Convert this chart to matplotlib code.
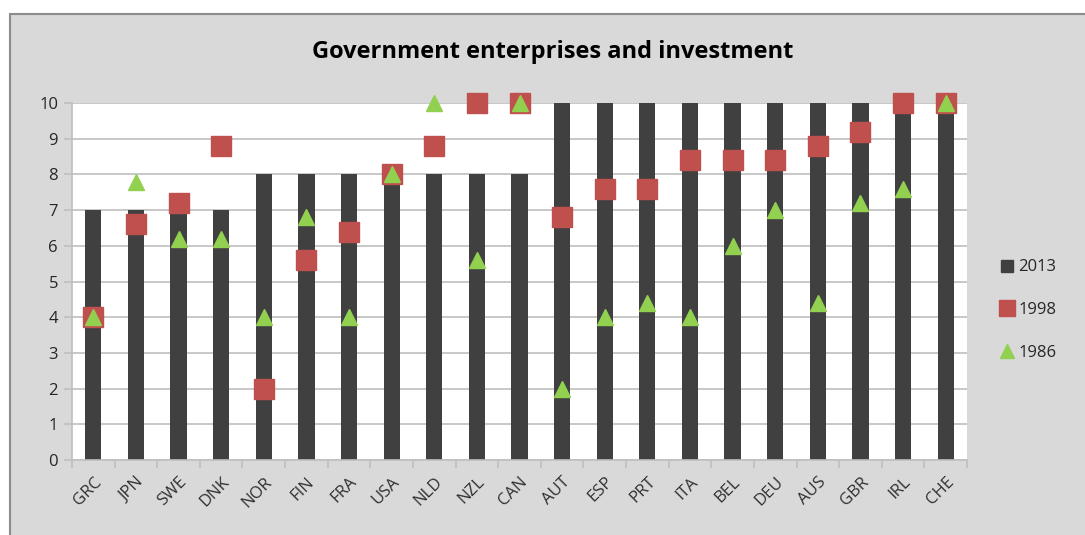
import matplotlib.pyplot as plt
import numpy as np
from matplotlib.patches import Rectangle
from matplotlib.lines import Line2D

# Country codes and scores per year
countries = ['GRC', 'JPN', 'SWE', 'DNK', 'NOR', 'FIN', 'FRA', 'USA', 'NLD', 'NZL', 'CAN',
             'AUT', 'ESP', 'PRT', 'ITA', 'BEL', 'DEU', 'AUS', 'GBR', 'IRL', 'CHE']
score_2013 = [7, 7, 7, 7, 8, 8, 8, 8, 8, 8, 8,
              10, 10, 10, 10, 10, 10, 10, 10, 10, 10]
score_1998 = [4, 6.6, 7.2, 8.8, 2, 5.6, 6.4, 8, 8.8, 10, 10,
              6.8, 7.6, 7.6, 8.4, 8.4, 8.4, 8.8, 9.2, 10, 10]
score_1986 = [4, 7.8, 6.2, 6.2, 4, 6.8, 4, 8, 10, 5.6, 10,
              2, 4, 4.4, 4, 6, 7, 4.4, 7.2, 7.6, 10]

BG = '#d9d9d9'
GRID = '#bfbfbf'
C2013, C1998, C1986 = '#404040', '#c0504d', '#92d050'

plt.rcParams['font.family'] = ['Open Sans', 'DejaVu Sans']

fig = plt.figure(figsize=(10.85, 5.35), dpi=100, facecolor='white')
# framed grey chart area, kept behind the axes
fig.patches.append(Rectangle((10 / 1085, -0.05), 1.0, 1.05 - 14 / 535,
                             transform=fig.transFigure, facecolor=BG,
                             edgecolor='#8c8c8c', linewidth=1.5, zorder=-10))

ax = fig.add_axes([72 / 1085, 75 / 535, 895 / 1085, 357 / 535])
ax.set_facecolor('white')

x = np.arange(len(countries))
ax.bar(x, score_2013, width=0.38, color=C2013, zorder=2)
ax.plot(x, score_1998, linestyle='none', marker='s', markersize=14,
        color=C1998, zorder=3, clip_on=False)
ax.plot(x, score_1986, linestyle='none', marker='^', markersize=11,
        color=C1986, zorder=4, clip_on=False)

ax.set_xlim(-0.5, len(countries) - 0.5)
ax.set_ylim(0, 10)
ax.set_yticks(range(0, 11))
ax.yaxis.grid(True, color=GRID, linewidth=1.2, zorder=0)
ax.set_axisbelow(True)

ax.set_xticks(x)
ax.set_xticklabels(countries, rotation=45, ha='right', rotation_mode='anchor',
                   fontsize=12, color='#303030')
ax.set_xticks(np.arange(-0.5, len(countries)), minor=True)
ax.tick_params(axis='x', which='major', length=0, pad=10)
ax.tick_params(axis='x', which='minor', length=6, color=GRID, width=1.2)
ax.tick_params(axis='y', length=6, color=GRID, width=1.2, labelsize=12,
               labelcolor='#262626', pad=4)

for side in ['top', 'right']:
    ax.spines[side].set_visible(False)
for side in ['left', 'bottom']:
    ax.spines[side].set_color(GRID)
    ax.spines[side].set_linewidth(1.2)

fig.text(553 / 1085, 1 - 52 / 535, 'Government enterprises and investment',
         ha='center', va='center', fontsize=17, fontweight='bold', color='black')

handles = [
    Line2D([], [], linestyle='none', marker='s', markersize=8, color=C2013),
    Line2D([], [], linestyle='none', marker='s', markersize=11, color=C1998),
    Line2D([], [], linestyle='none', marker='^', markersize=10, color=C1986),
]
ax.legend(handles, ['2013', '1998', '1986'], loc='center left',
          bbox_to_anchor=(1.02, 0.42), frameon=False, fontsize=12,
          handlelength=0.8, handletextpad=0.3, labelspacing=1.6,
          labelcolor='#262626')

fig.savefig('out.png', dpi=100, facecolor=fig.get_facecolor())
